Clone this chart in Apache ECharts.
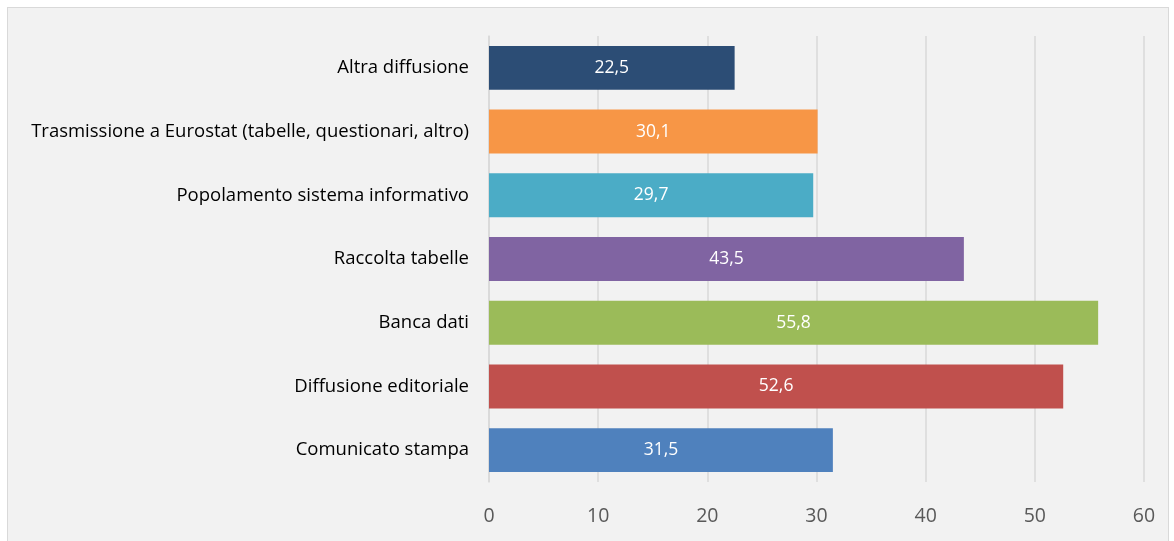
<!DOCTYPE html>
<html>
<head>
    <meta charset="utf-8">
    <title>Diffusione</title>
    <script src="https://cdn.jsdelivr.net/npm/echarts@6/dist/echarts.min.js"></script>
    <style>
        body { margin: 0; background: #fff; }
        #box { position: absolute; left: 7px; top: 7px; width: 1160px; height: 540px;
               border: 1px solid #d9d9d9; background: #f2f2f2; }
    </style>
</head>
<body>
    <div id="box"></div>
    <script type="text/javascript">
        // categorie dal basso verso l'alto
        var categories = ['Comunicato stampa', 'Diffusione editoriale', 'Banca dati', 'Raccolta tabelle',
            'Popolamento sistema informativo', 'Trasmissione a Eurostat (tabelle, questionari, altro)', 'Altra diffusione'];
        var values = [31.5, 52.6, 55.8, 43.5, 29.7, 30.1, 22.5];
        var colors = ['#4f81bd', '#c0504d', '#9bbb59', '#8064a2', '#4bacc6', '#f79646', '#2c4d75'];
        var xTicks = [0, 60, 10];

        var myChart = echarts.init(document.getElementById('box'));
        var option = {
            backgroundColor: '#f2f2f2',
            textStyle: { fontFamily: 'Open Sans' },
            grid: { left: 481, right: 24, top: 28, bottom: 66 },
            xAxis: {
                type: 'value',
                min: xTicks[0], max: xTicks[1], interval: xTicks[2],
                axisLine: { show: false },
                axisTick: { show: false },
                axisLabel: { color: '#595959', fontSize: 19.5, margin: 24 },
                splitLine: { lineStyle: { color: '#d9d9d9', width: 1.5 } }
            },
            yAxis: {
                type: 'category',
                data: categories,
                axisLine: { show: true, lineStyle: { color: '#d9d9d9', width: 1.5 } },
                axisTick: { show: false },
                axisLabel: { color: '#000', fontSize: 18.5, margin: 20 }
            },
            series: [{
                type: 'bar',
                barCategoryGap: '31%',
                data: values.map(function (v, i) {
                    return { value: v, itemStyle: { color: colors[i] } };
                }),
                label: {
                    show: true,
                    position: 'inside',
                    color: '#fff',
                    fontSize: 17.5,
                    formatter: function (p) { return String(p.value.toFixed(1)).replace('.', ','); }
                }
            }]
        };
        myChart.setOption(option);
    </script>
</body>
</html>
